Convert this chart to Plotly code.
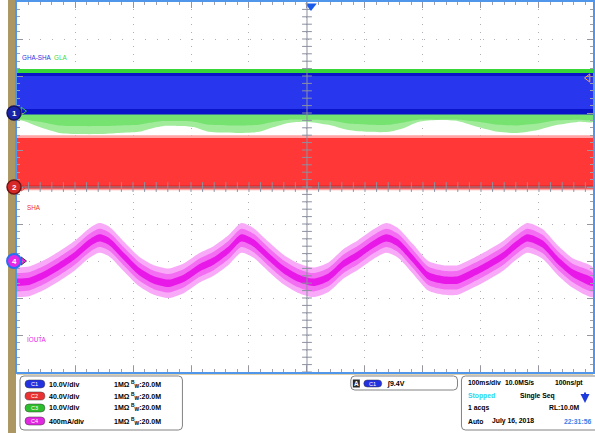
import numpy as np
import plotly.graph_objects as go

# ---------------- data ----------------
# time base: 100 ms/div, 10 divisions
ms_per_div = 100.0

# C4  IOUTA  (400 mA/div, ground at -2 div)
iouta_t_ms = [0, 21, 47, 73, 99, 125, 142, 159, 185, 210, 236, 262, 288, 314, 339,
              365, 387, 408, 434, 460, 485, 511, 537, 563, 588, 614, 637, 657, 683,
              709, 735, 760, 786, 812, 838, 860, 880, 906, 932, 958, 993]
iouta_mA = [-230, -220, -150, -55, 55, 195, 250, 210, 45, -110, -205, -240, -185, -75, 0,
            120, 250, 195, 45, -95, -185, -230, -175, -30, 65, 180, 250, 195, 20,
            -160, -205, -205, -130, -45, 55, 170, 250, 185, 10, -130, -230]
iouta_ripple_mA = 160

# C3  GLA  (10 V/div, ground at +2 div): lower noise envelope and top level
gla_t_ms = [0, 13, 39, 73, 107, 142, 176, 210, 228, 253, 280, 305, 331, 383, 417, 443,
            468, 503, 537, 571, 606, 640, 666, 692, 726, 761, 795, 829, 863, 898, 932,
            967, 993]
gla_low_V = [-1.9, -2.2, -3.8, -5.4, -5.7, -5.7, -5.4, -5.1, -4.3, -3.5, -3.5, -3.8, -5.1,
             -5.4, -5.1, -3.8, -2.7, -2.4, -3.2, -4.6, -5.1, -5.1, -4.1, -2.4, -1.9, -2.2,
             -3.8, -5.1, -5.4, -4.6, -3.2, -2.4, -2.4]
gla_high_V = 11.9

# C1  GHA-SHA  (10 V/div, ground at +2 div)
gha_sha_t_ms = [0, 1000]
gha_sha_high_V = 10.8
gha_sha_low_V = -0.4

# C2  SHA  (40 V/div, ground at 0 div)
sha_t_ms = [0, 1000]
sha_high_V = 53.0
sha_low_V = -3.5

# channel table
channel_ids = ["C1", "C2", "C3", "C4"]
channel_scale = [10.0, 40.0, 10.0, 400.0]
channel_offset_div = [2.0, 0.0, 2.0, -2.0]
channel_scale_text = ["10.0V/div", "40.0V/div", "10.0V/div", "400mA/div"]
channel_colors = ["rgb(35,50,225)", "rgb(235,50,50)", "rgb(45,190,45)", "rgb(225,40,225)"]
channel_coupling = ["1MΩ"] * 4
channel_bw = ["20.0M"] * 4

trigger_level = "9.4V"
timebase_text = ["100ms/div", "10.0MS/s", "100ns/pt"]
acq_text = ["Stopped", "Single Seq", "1 acqs", "RL:10.0M", "Auto", "July 16, 2018", "22:31:56"]

# ---------------- geometry ----------------
W_FIG, H_FIG = 595, 433
L, T = 17, 2
PW, PH = 578, 370
DIV_X = 58.2
DIV_Y = PH / 10.0
XMAX = PW / DIV_X
Y0 = T + PH / 2.0   # pixel row of 0 div


def px(x):
    return (x - L) / PW


def py(y):
    return (T + PH - y) / PH


def to_div(v, ch):
    return np.asarray(v, dtype=float) / channel_scale[ch] + channel_offset_div[ch]


def tdiv(t):
    return np.asarray(t, dtype=float) / ms_per_div


def band(t, lo, hi, color, shape="linear"):
    t = list(tdiv(t))
    lo = list(lo)
    hi = list(hi)
    return go.Scatter(x=t + t[::-1], y=lo + hi[::-1], fill="toself", fillcolor=color,
                      line=dict(width=0, shape=shape, smoothing=0.7), mode="lines",
                      hoverinfo="skip", showlegend=False)


fig = go.Figure()

# ---- C3 GLA (green) ----
n = len(gla_t_ms)
zero3 = to_div([0.0] * n, 2)
fig.add_trace(band(gla_t_ms, to_div(gla_low_V, 2), zero3, "rgb(160,236,155)", "spline"))
fig.add_trace(band(gla_t_ms, to_div([min(-1.8, v * 0.62) for v in gla_low_V], 2), zero3,
                   "rgb(118,226,112)", "spline"))
fig.add_trace(band(gha_sha_t_ms, to_div([gha_sha_high_V] * 2, 2), to_div([gla_high_V] * 2, 2),
                   "rgb(55,215,55)"))

# ---- C1 GHA-SHA (blue) ----
fig.add_trace(band(gha_sha_t_ms, to_div([gha_sha_low_V] * 2, 0), to_div([gha_sha_high_V] * 2, 0),
                   "rgb(10,20,200)"))
fig.add_trace(band(gha_sha_t_ms, to_div([gha_sha_low_V + 1.5] * 2, 0),
                   to_div([gha_sha_high_V - 0.8] * 2, 0), "rgb(40,55,238)"))

# ---- C2 SHA (red) ----
fig.add_trace(band(sha_t_ms, to_div([sha_low_V] * 2, 1), to_div([sha_high_V + 3.0] * 2, 1),
                   "rgb(255,165,165)"))
fig.add_trace(band(sha_t_ms, to_div([0.0] * 2, 1), to_div([sha_high_V] * 2, 1),
                   "rgb(255,55,55)"))
fig.add_trace(band(sha_t_ms, to_div([-1.5] * 2, 1), to_div([1.5] * 2, 1), "rgb(215,35,35)"))

# ---- C4 IOUTA (magenta) ----
ic = np.asarray(iouta_mA, dtype=float)
for frac, col in [(1.0, "rgb(248,170,248)"), (0.62, "rgb(243,110,243)"), (0.25, "rgb(232,25,232)")]:
    fig.add_trace(band(iouta_t_ms, to_div(ic - frac * iouta_ripple_mA, 3),
                       to_div(ic + frac * iouta_ripple_mA, 3), col, "spline"))

# ---- centre cross-hair ticks ----
yt = np.arange(-5, 5.001, 0.2)
xt = np.arange(0, XMAX, 0.2)
fig.add_trace(go.Scatter(x=[5.0] * len(yt), y=yt, mode="markers",
                         marker=dict(symbol="line-ew", size=7, line=dict(width=1, color="rgb(140,145,160)")),
                         hoverinfo="skip", showlegend=False))
fig.add_trace(go.Scatter(x=xt, y=[0.0] * len(xt), mode="markers",
                         marker=dict(symbol="line-ns", size=7, line=dict(width=1, color="rgb(140,145,160)")),
                         hoverinfo="skip", showlegend=False))

# ---- channel ground arrows ----
ar_x = (23 - L) / DIV_X
fig.add_trace(go.Scatter(
    x=[ar_x] * 3, y=[channel_offset_div[2] + 0.05, channel_offset_div[1], channel_offset_div[3]],
    mode="markers",
    marker=dict(size=7, symbol=["triangle-right-open", "triangle-right-open", "triangle-right"],
                color=["rgb(60,200,60)", "rgb(230,60,60)", "rgb(230,40,230)"], line=dict(width=1)),
    cliponaxis=False, hoverinfo="skip", showlegend=False))
# right-edge indicator and trigger position
fig.add_trace(go.Scatter(x=[(590 - L) / DIV_X], y=[(Y0 - 78) / DIV_Y], mode="markers",
                         marker=dict(size=7, symbol="triangle-left-open",
                                     line=dict(width=1, color="rgb(205,205,235)")),
                         cliponaxis=False, hoverinfo="skip", showlegend=False))
fig.add_trace(go.Scatter(x=[(312 - L) / DIV_X], y=[(Y0 - 6) / DIV_Y], mode="markers",
                         marker=dict(size=10, symbol="triangle-down", color="rgb(25,90,235)"),
                         cliponaxis=False, hoverinfo="skip", showlegend=False))

shapes = []
annotations = []
FONT = "Liberation Sans, Arial, sans-serif"


def txt(x, y, s, color="black", size=7, anchor="left", family=FONT):
    annotations.append(dict(x=px(x), y=py(y), xref="paper", yref="paper", text=s, showarrow=False,
                            xanchor=anchor, yanchor="middle",
                            font=dict(family=family, size=size, color=color)))


# centre lines
shapes.append(dict(type="line", xref="x", yref="paper", x0=5, x1=5, y0=0, y1=1,
                   line=dict(color="rgb(140,145,160)", width=1), layer="above"))
shapes.append(dict(type="line", xref="paper", yref="y", x0=0, x1=1, y0=0, y1=0,
                   line=dict(color="rgb(140,145,160)", width=1), layer="above"))
# gold strip on the left
shapes.append(dict(type="rect", xref="paper", yref="paper", x0=px(8), x1=px(16), y0=py(433), y1=py(0),
                   fillcolor="rgb(172,150,98)", line=dict(width=0), layer="below"))
shapes.append(dict(type="line", xref="paper", yref="paper", x0=px(17), x1=px(595), y0=py(374), y1=py(374),
                   line=dict(color="rgb(190,160,90)", width=1), layer="below"))

# channel ground markers (circles with number)
mark_fill = ["rgb(25,35,170)", "rgb(215,40,40)", "rgb(230,40,230)"]
mark_edge = ["rgb(20,20,90)", "rgb(110,20,20)", "rgb(40,110,240)"]
for k, c in enumerate([0, 1, 3]):
    yc = Y0 - channel_offset_div[c] * DIV_Y
    shapes.append(dict(type="circle", xref="paper", yref="paper", x0=px(7), x1=px(21),
                       y0=py(yc + 7), y1=py(yc - 7), fillcolor=mark_fill[k],
                       line=dict(color=mark_edge[k], width=1.5 if k < 2 else 2), layer="above"))
    txt(14, yc, "<b>" + channel_ids[c][1] + "</b>", "white", 8, "center")


def rrect(x0, y0, x1, y1, r):
    pts = [("M", x0 + r, y0), ("L", x1 - r, y0), ("Q", x1, y0, x1, y0 + r), ("L", x1, y1 - r),
           ("Q", x1, y1, x1 - r, y1), ("L", x0 + r, y1), ("Q", x0, y1, x0, y1 - r),
           ("L", x0, y0 + r), ("Q", x0, y0, x0 + r, y0)]
    s = ""
    for p in pts:
        if p[0] == "Q":
            s += f"Q{px(p[1]):.5f},{py(p[2]):.5f} {px(p[3]):.5f},{py(p[4]):.5f} "
        else:
            s += f"{p[0]}{px(p[1]):.5f},{py(p[2]):.5f} "
    return s + "Z"


box_line = dict(color="rgb(130,130,130)", width=1)
shapes.append(dict(type="path", xref="paper", yref="paper", path=rrect(20, 376, 183, 430, 4),
                   line=box_line, fillcolor="white"))
shapes.append(dict(type="path", xref="paper", yref="paper", path=rrect(352, 376, 459, 390, 4),
                   line=box_line, fillcolor="white"))
shapes.append(dict(type="path", xref="paper", yref="paper", path=rrect(463, 376, 603, 430, 4),
                   line=box_line, fillcolor="white"))

# channel badges + settings
row_y = [384, 396, 408, 421]
for i, cid in enumerate(channel_ids):
    y = row_y[i]
    shapes.append(dict(type="path", xref="paper", yref="paper", path=rrect(25, y - 4, 45, y + 4, 4),
                       fillcolor=channel_colors[i], line=dict(color="rgb(60,60,60)", width=0.5)))
    txt(35, y, cid, "white", 5.5, "center")
    txt(47, y, "<b>" + channel_scale_text[i] + "</b>")
    txt(112, y, "<b>" + channel_coupling[i] + "</b>")
    txt(129, y, "<b><sup>B</sup><sub>W</sub>:" + channel_bw[i] + "</b>")

# trigger box
shapes.append(dict(type="rect", xref="paper", yref="paper", x0=px(354), x1=px(361), y0=py(387.5), y1=py(379.5),
                   fillcolor="rgb(40,40,40)", line=dict(width=0)))
txt(357.5, 383.5, "<b>A</b>", "white", 6.5, "center")
shapes.append(dict(type="path", xref="paper", yref="paper", path=rrect(365, 380, 383, 387, 3.5),
                   fillcolor=channel_colors[0], line=dict(color="rgb(60,60,60)", width=0.5)))
txt(374, 383.5, "C1", "white", 5.5, "center")
txt(386, 383.5, "<b>∫" + trigger_level + "</b>")

# acquisition box
AS = 6.8
txt(468, 383, "<b>" + timebase_text[0] + "</b>", size=AS)
txt(505, 383, "<b>" + timebase_text[1] + "</b>", size=AS)
txt(555, 383, "<b>" + timebase_text[2] + "</b>", size=AS)
txt(468, 396, "<b>" + acq_text[0] + "</b>", "rgb(40,215,240)", AS)
txt(520, 396, "<b>" + acq_text[1] + "</b>", size=AS)
txt(468, 408, "<b>" + acq_text[2] + "</b>", size=AS)
txt(549, 408, "<b>" + acq_text[3] + "</b>", size=AS)
txt(468, 421, "<b>" + acq_text[4] + "</b>", size=AS)
txt(492, 421, "<b>" + acq_text[5] + "</b>", size=AS)
txt(564, 421, "<b>" + acq_text[6] + "</b>", "rgb(50,130,235)", AS)
annotations.append(dict(x=px(587), y=py(403), xref="paper", yref="paper", text="", showarrow=True,
                        ax=0, ay=-12, arrowhead=2, arrowsize=0.9, arrowwidth=2,
                        arrowcolor="rgb(30,60,220)"))

# waveform labels
txt(20, 57, "GHA-SHA", "rgb(40,55,225)", 6.3)
txt(52, 57, "GLA", "rgb(60,215,60)", 6.3)
txt(25, 207, "SHA", "rgb(230,50,50)", 6.3)
txt(25, 339, "IOUTA", "rgb(230,40,230)", 6.3)

axis_common = dict(showticklabels=False, zeroline=False, showline=True, linewidth=2,
                   linecolor="rgb(80,150,235)", mirror="ticks", ticks="inside",
                   tickcolor="rgb(150,150,160)", tickwidth=1, ticklen=6, tick0=0, dtick=1,
                   gridcolor="rgb(175,175,180)", gridwidth=1,
                   minor=dict(ticks="inside", ticklen=3, dtick=0.2, tick0=0,
                              tickcolor="rgb(160,160,170)", showgrid=False))

fig.update_layout(
    width=W_FIG, height=H_FIG, autosize=False,
    margin=dict(l=L, r=0, t=T, b=H_FIG - T - PH, pad=0),
    paper_bgcolor="white", plot_bgcolor="white",
    xaxis=dict(range=[0, XMAX], griddash="1px,6.4px", **axis_common),
    yaxis=dict(range=[-5, 5], griddash="1px,10.64px", **axis_common),
    shapes=shapes, annotations=annotations, showlegend=False,
)

fig.write_html("out.html", config={"displayModeBar": False},
               post_script="document.body.style.margin='0px';document.body.style.overflow='hidden';")
